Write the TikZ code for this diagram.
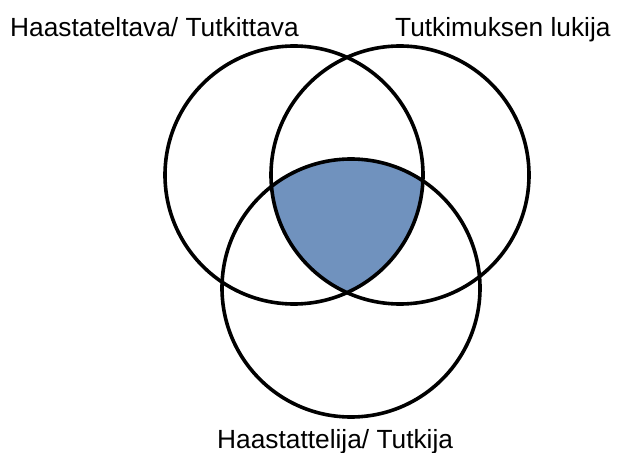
\documentclass[tikz,border=0pt]{standalone}
\usepackage{fontspec}
\setmainfont{Liberation Sans}
\definecolor{venn}{RGB}{112,146,190}
\begin{document}
\begin{tikzpicture}[x=1bp,y=-1bp,
  ring/.style={draw=black,line width=3.6bp},
  lbl/.style={inner sep=0pt,font=\fontsize{26.3bp}{30bp}\selectfont}]
\useasboundingbox (0,0) rectangle (618,453);
\coordinate (L) at (294,175);
\coordinate (R) at (400,175);
\coordinate (B) at (351,288);
\begin{scope}
  \clip (L) circle[radius=129];
  \clip (R) circle[radius=129];
  \fill[venn] (B) circle[radius=129];
\end{scope}
\draw[ring] (L) circle[radius=129];
\draw[ring] (R) circle[radius=129];
\draw[ring] (B) circle[radius=129];
\node[lbl,anchor=base west] (tl) at (10,36.7) {Haastateltava/ Tutkittava};
\node[lbl,anchor=base west] (tr) at (395,36.7) {Tutkimuksen lukija};
\node[lbl,anchor=base west] (bt) at (217,448) {Haastattelija/ Tutkija};
\end{tikzpicture}
\end{document}
